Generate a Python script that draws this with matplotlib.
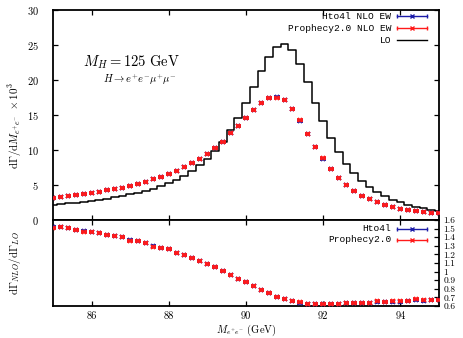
import numpy as np
import matplotlib
matplotlib.use("Agg")
import matplotlib.pyplot as plt

# ---------------- data ----------------
mass = np.round(np.arange(85.0, 95.001, 0.2), 1)   # bin centres (GeV)

lo = [2.10, 2.24, 2.38, 2.48, 2.62, 2.76, 2.90, 3.05, 3.24, 3.43,
      3.67, 3.86, 4.14, 4.43, 4.81, 5.29, 5.71, 6.29, 7.03, 7.81,
      8.76, 9.86, 11.19, 12.81, 14.62, 16.67, 18.95, 21.29, 23.33, 24.76,
      25.14, 24.24, 22.29, 19.71, 16.76, 14.14, 11.72, 9.67, 8.03, 6.67,
      5.57, 4.71, 4.05, 3.38, 2.90, 2.52, 2.19, 1.90, 1.67, 1.48, 1.29]

prophecy_nlo = [3.19, 3.29, 3.43, 3.53, 3.71, 3.86, 4.05, 4.24, 4.43, 4.61,
                4.86, 5.19, 5.47, 5.81, 6.14, 6.61, 7.00, 7.53, 8.10, 8.71,
                9.47, 10.33, 11.19, 12.38, 13.43, 14.62, 15.71, 16.71, 17.47, 17.47,
                17.14, 15.86, 14.22, 12.24, 10.48, 8.79, 7.24, 6.05, 5.05, 4.14,
                3.48, 2.95, 2.57, 2.14, 1.86, 1.57, 1.43, 1.29, 1.10, 1.00, 0.95]

hto4l_nlo = [3.20, 3.30, 3.42, 3.54, 3.70, 3.87, 4.05, 4.25, 4.43, 4.62,
             4.85, 5.20, 5.47, 5.80, 6.15, 6.60, 7.01, 7.52, 8.11, 8.70,
             9.48, 10.32, 11.20, 12.37, 13.44, 14.61, 15.72, 16.70, 17.50, 17.60,
             17.12, 15.87, 14.20, 12.25, 10.45, 8.75, 7.22, 6.03, 5.04, 4.13,
             3.47, 2.94, 2.56, 2.13, 1.85, 1.56, 1.42, 1.28, 1.09, 0.99, 0.94]

prophecy_ratio = [1.507, 1.519, 1.503, 1.480, 1.464, 1.464, 1.445, 1.422, 1.414, 1.399,
                  1.359, 1.352, 1.329, 1.290, 1.271, 1.259, 1.220, 1.197, 1.155, 1.120,
                  1.088, 1.050, 1.007, 0.964, 0.917, 0.879, 0.829, 0.786, 0.751, 0.705,
                  0.681, 0.658, 0.643, 0.627, 0.627, 0.627, 0.627, 0.627, 0.635, 0.635,
                  0.638, 0.638, 0.654, 0.646, 0.654, 0.654, 0.662, 0.678, 0.666, 0.670, 0.670]

hto4l_ratio = [1.515, 1.522, 1.505, 1.478, 1.468, 1.462, 1.447, 1.425, 1.412, 1.401,
               1.362, 1.350, 1.331, 1.293, 1.275, 1.257, 1.222, 1.195, 1.157, 1.118,
               1.090, 1.048, 1.009, 0.962, 0.915, 0.877, 0.827, 0.784, 0.749, 0.703,
               0.679, 0.656, 0.640, 0.624, 0.625, 0.624, 0.625, 0.624, 0.632, 0.632,
               0.635, 0.635, 0.650, 0.643, 0.650, 0.651, 0.659, 0.675, 0.663, 0.667, 0.668]

xticks = [86, 88, 90, 92, 94]
main_yticks = [0, 5, 10, 15, 20, 25, 30]
ratio_yticks = [0.6, 0.7, 0.8, 0.9, 1.0, 1.1, 1.2, 1.3, 1.4, 1.5, 1.6]
ratio_ylabels = ["0.6", "0.7", "0.8", "0.9", "1", "1.1", "1.2", "1.3", "1.4", "1.5", "1.6"]

# ---------------- style ----------------
plt.rcParams['font.family'] = ['cmr10', 'DejaVu Serif']
plt.rcParams['mathtext.fontset'] = 'cm'
plt.rcParams['axes.formatter.use_mathtext'] = True
plt.rcParams['axes.unicode_minus'] = False

BLUE = '#1c1ca8'
RED = '#ff1a1a'
MONO = 'Liberation Mono'

W, H = 463, 338
fig = plt.figure(figsize=(W / 100, H / 100), dpi=100)

def frac(l, t, r, b):
    return [l / W, 1 - b / H, (r - l) / W, (b - t) / H]

ax = fig.add_axes(frac(53, 10, 439, 220))
axr = fig.add_axes(frac(53, 220, 439, 306))

err_kw = dict(fmt='x', markersize=3.2, mew=1.3, elinewidth=1.2,
              capsize=1.4, capthick=1.0, xerr=0.045)

# main panel
ax.step(mass, lo, where='mid', color='black', lw=1.1, zorder=2)
ax.errorbar(mass, hto4l_nlo, color=BLUE, zorder=3, **err_kw)
ax.errorbar(mass, prophecy_nlo, color=RED, zorder=4, **err_kw)

ax.set_xlim(85, 95)
ax.set_ylim(0, 30)
ax.set_xticks(xticks)
ax.set_xticklabels([])
ax.set_yticks(main_yticks)
ax.tick_params(direction='in', length=3.5, width=0.9, labelsize=7.5,
               top=True, right=True, pad=5)
ax.tick_params(axis='y', pad=10)
for s in ax.spines.values():
    s.set_linewidth(1.3)

ax.text(0.077, 0.752, r'$M_H = 125\ \mathrm{GeV}$', transform=ax.transAxes,
        fontsize=10.5, ha='left', va='center')
ax.text(0.13, 0.667, r'$H \to e^{+}e^{-}\mu^{+}\mu^{-}$', transform=ax.transAxes,
        fontsize=7.5, ha='left', va='center')

# manual gnuplot-style key
def key(a, y, text, color, kind):
    a.text(0.876, y, text, transform=a.transAxes, ha='right', va='center',
           fontsize=6.8, family=MONO)
    x0, x1 = 0.891, 0.969
    a.plot([x0, x1], [y, y], transform=a.transAxes, color=color, lw=1.0,
           clip_on=False)
    if kind == 'err':
        a.plot([x0, x1], [y, y], transform=a.transAxes, color=color, lw=0,
               marker='|', ms=3.5, mew=1.0, clip_on=False)
        a.plot([(x0 + x1) / 2], [y], transform=a.transAxes, color=color,
               marker='x', ms=3, mew=1.0, clip_on=False)

key(ax, 0.971, 'Hto4l NLO EW', BLUE, 'err')
key(ax, 0.912, 'Prophecy2.0 NLO EW', RED, 'err')
key(ax, 0.857, 'LO', 'black', 'line')

# ratio panel
axr.errorbar(mass, hto4l_ratio, color=BLUE, zorder=3, **err_kw)
axr.errorbar(mass, prophecy_ratio, color=RED, zorder=4, **err_kw)
axr.set_xlim(85, 95)
axr.set_ylim(0.6, 1.6)
axr.set_xticks(xticks)
axr.set_xticklabels([str(t) for t in xticks])
axr.yaxis.tick_right()
axr.set_yticks(ratio_yticks)
axr.set_yticklabels(ratio_ylabels)
axr.tick_params(direction='in', length=3.5, width=0.9, labelsize=7.5,
                top=True, right=True, left=False, pad=4)
axr.tick_params(axis='y', pad=3, labelsize=6.8)
for s in axr.spines.values():
    s.set_linewidth(1.3)

key(axr, 0.899, 'Hto4l', BLUE, 'err')
key(axr, 0.771, 'Prophecy2.0', RED, 'err')

axr.set_xlabel(r'$M_{e^{+}e^{-}}$ (GeV)', fontsize=7.5, labelpad=1)

fig.text(15 / W, 1 - 125 / H, r'$\mathrm{d}\Gamma/\mathrm{d}M_{e^{+}e^{-}}\ \times 10^{3}$',
         rotation=90, ha='center', va='center', fontsize=8)
fig.text(15 / W, 1 - 263 / H, r'$\mathrm{d}\Gamma_{NLO}/\mathrm{d}\Gamma_{LO}$',
         rotation=90, ha='center', va='center', fontsize=8)

fig.savefig('out.png', dpi=100)
